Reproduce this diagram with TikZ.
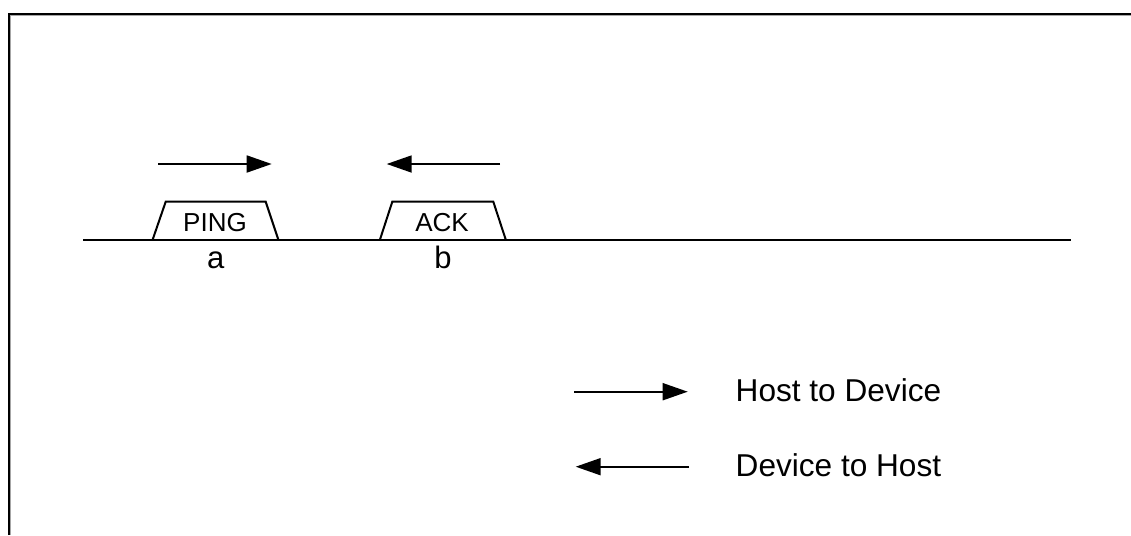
\documentclass[tikz,border=0pt]{standalone}
\usepackage{fontspec}
\setmainfont{Liberation Sans}
\usetikzlibrary{arrows.meta}
\tikzset{
  wire/.style={line width=2pt, black},
  dirarrow/.style={line width=1.8pt, -{Triangle[length=25pt,width=17pt]}},
  pkt/.style={font=\fontsize{26}{30}\selectfont, inner sep=0pt, anchor=base},
  lbl/.style={font=\fontsize{31}{36}\selectfont, inner sep=0pt, anchor=base},
  legtxt/.style={font=\fontsize{31.6}{36}\selectfont, inner sep=0pt, anchor=base west},
}
\begin{document}
\begin{tikzpicture}[x=1pt,y=-1pt]
\useasboundingbox (0,0) rectangle (1131,535);
% frame
\draw[gray!70, line width=1pt] (10.2,535) -- (10.2,15.6) -- (1131,15.6);
\draw[line width=2.4pt] (8.8,535) -- (8.8,14) -- (1131,14);
% timeline
\coordinate (tl0) at (83,239.5);
\coordinate (tl1) at (1070.7,239.5);
\draw[wire] (tl0) -- (tl1);
% packets
\draw[wire, line join=miter] (152.7,239.5) -- (165.7,201.7) -- (265.7,201.7) -- (278.3,239.5);
\draw[wire, line join=miter] (380,239.5) -- (392.3,201.7) -- (493.3,201.7) -- (505.7,239.5);
\node[pkt] (ping) at (215,231.7) {PING};
\node[pkt] (ack) at (442,231.7) {ACK};
\node[lbl] (a) at (215.7,268.3) {a};
\node[lbl] (b) at (443,268.3) {b};
% direction arrows
\coordinate (pa0) at (158,164);
\coordinate (pa1) at (271.7,164);
\draw[dirarrow] (pa0) -- (pa1);
\coordinate (pb0) at (500,164);
\coordinate (pb1) at (386.7,164);
\draw[dirarrow] (pb0) -- (pb1);
% legend
\coordinate (l10) at (574,391.7);
\coordinate (l11) at (687.7,391.7);
\draw[dirarrow] (l10) -- (l11);
\node[legtxt] (h2d) at (735.5,401.7) {Host to Device};
\coordinate (l20) at (689,466.7);
\coordinate (l21) at (575.7,466.7);
\draw[dirarrow] (l20) -- (l21);
\node[legtxt] (d2h) at (735.5,476.7) {Device to Host};
\end{tikzpicture}
\end{document}
